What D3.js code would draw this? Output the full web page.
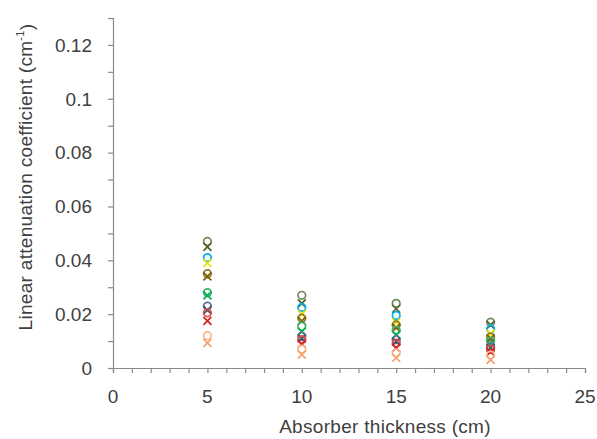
<!DOCTYPE html>
<html><head><meta charset="utf-8">
<script src="https://cdn.jsdelivr.net/npm/d3@7"></script>
<style>body{margin:0;background:#fff;} svg{display:block;}</style>
</head><body><svg id="c" width="597" height="439"></svg>
<script>
const thickness = [5, 10, 15, 20];
const xTicks = [0, 5, 10, 15, 20, 25];
const yTicks = [0, 0.02, 0.04, 0.06, 0.08, 0.1, 0.12];
const yTickLabels = ["0", "0.02", "0.04", "0.06", "0.08", "0.1", "0.12"];
const seriesNames = ["S1o","S1x","S2o","S2x","S3o","S3x","S4o","S4x","S5o","S5x","S6o","S6x","S7o","S7x"];
const seriesColors = ["#6f8a5c","#4f6228","#00b0f0","#e8e000","#8c7a2a","#7f6000","#3cb371","#00b050","#5f7391","#44546a","#e04848","#d42020","#f9b88a","#f7a070"];
const seriesMarkers = ["o","x","o","x","o","x","o","x","o","x","o","x","o","x"];
const seriesValues = [
  [0.047, 0.027, 0.024, 0.017],
  [0.045, 0.024, 0.022, 0.016],
  [0.041, 0.0225, 0.0195, 0.0145],
  [0.039, 0.020, 0.017, 0.0128],
  [0.035, 0.0185, 0.016, 0.0115],
  [0.034, 0.0175, 0.015, 0.011],
  [0.028, 0.0155, 0.014, 0.010],
  [0.027, 0.0135, 0.0123, 0.009],
  [0.023, 0.0118, 0.0105, 0.008],
  [0.0215, 0.011, 0.0098, 0.0075],
  [0.0205, 0.0105, 0.0092, 0.007],
  [0.0175, 0.009, 0.0075, 0.006],
  [0.012, 0.007, 0.0056, 0.0048],
  [0.0093, 0.005, 0.0038, 0.003]
];

const svg = d3.select("#c");
const x = d3.scaleLinear().domain([0, 25]).range([113, 585]);
const y = d3.scaleLinear().domain([0, 0.13]).range([368, 18]);
const axisColor = "#8a8a8a";
const textColor = "#404040";
const font = "'Liberation Sans', Arial, sans-serif";

// minor ticks
const gx = svg.append("g").attr("transform", "translate(0,368)");
gx.call(d3.axisBottom(x).tickValues(d3.range(0, 26, 1)).tickSize(5).tickFormat(""));
const gy = svg.append("g").attr("transform", "translate(113,0)");
gy.call(d3.axisLeft(y).tickValues(d3.range(0, 0.1301, 0.01)).tickSize(5).tickFormat(""));
[gx, gy].forEach(g => {
  g.selectAll("path").attr("stroke", axisColor).attr("stroke-width", 1.2);
  g.selectAll("line").attr("stroke", axisColor).attr("stroke-width", 1.2);
});

// labels
svg.append("g").selectAll("text").data(yTicks).join("text")
  .attr("x", 92).attr("y", d => y(d)).attr("dy", "0.36em")
  .attr("text-anchor", "end").attr("font-family", font).attr("font-size", 19)
  .attr("fill", textColor).text((d, i) => yTickLabels[i]);
svg.append("g").selectAll("text").data(xTicks).join("text")
  .attr("x", d => x(d)).attr("y", 396).attr("dy", "0.36em")
  .attr("text-anchor", "middle").attr("font-family", font).attr("font-size", 19)
  .attr("fill", textColor).text(d => d);

svg.append("text").attr("x", 385).attr("y", 426).attr("dy", "0.36em")
  .attr("text-anchor", "middle").attr("font-family", font).attr("font-size", 19)
  .attr("fill", textColor).attr("letter-spacing", 0.3).text("Absorber thickness (cm)");
const yt = svg.append("text").attr("transform", "translate(25,177) rotate(-90)").attr("dy", "0.36em")
  .attr("text-anchor", "middle").attr("font-family", font).attr("font-size", 19)
  .attr("fill", textColor).attr("letter-spacing", 0.3);
yt.append("tspan").text("Linear attenuation coefficient (cm");
yt.append("tspan").attr("font-size", 11).attr("dy", "-0.7em").text("-1");
yt.append("tspan").attr("dy", "0.45em").text(")");

// points
const pts = svg.append("g");
seriesValues.forEach((vals, si) => {
  const col = seriesColors[si];
  const g = pts.append("g").attr("class", seriesNames[si]);
  vals.forEach((v, i) => {
    const cx = x(thickness[i]), cy = y(v);
    if (seriesMarkers[si] === "o") {
      g.append("circle").attr("cx", cx).attr("cy", cy).attr("r", 3.8)
        .attr("fill", "none").attr("stroke", col).attr("stroke-width", 1.7);
    } else {
      const s = 4;
      g.append("path").attr("d", `M${cx-s},${cy-s}L${cx+s},${cy+s}M${cx-s},${cy+s}L${cx+s},${cy-s}`)
        .attr("stroke", col).attr("stroke-width", 1.7).attr("fill", "none");
    }
  });
});
</script></body></html>
